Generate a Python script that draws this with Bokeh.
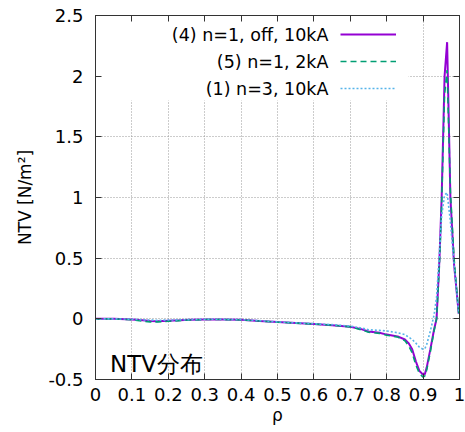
from bokeh.plotting import figure
from bokeh.models import (Range1d, LinearAxis, FixedTicker, Legend, LegendItem,
                          Label, BoxAnnotation)
from bokeh.core.properties import value
from bokeh.embed import file_html
from bokeh.resources import INLINE

# ---------------- data ----------------
rho = [0, 0.05, 0.1, 0.13, 0.15, 0.17, 0.2, 0.23, 0.26, 0.3,
       0.35, 0.4, 0.45, 0.5, 0.55, 0.6, 0.65, 0.7, 0.73, 0.75,
       0.78, 0.8, 0.83, 0.85, 0.86, 0.87, 0.88, 0.89, 0.9, 0.905,
       0.91, 0.92, 0.93, 0.937, 0.945, 0.951, 0.959, 0.966, 0.975, 0.985,
       0.998]

ntv_n1_off_10kA = [0, 0, -0.005, -0.012, -0.018, -0.02, -0.015, -0.012, -0.008, -0.005,
                   -0.005, -0.008, -0.018, -0.027, -0.035, -0.043, -0.052, -0.065, -0.085, -0.105,
                   -0.115, -0.13, -0.145, -0.17, -0.2, -0.25, -0.35, -0.43, -0.46, -0.455,
                   -0.4, -0.25, -0.09, 0.0, 0.5, 1.0, 2.0, 2.28, 1.0, 0.45,
                   0.04]

ntv_n1_2kA = [0, 0, -0.008, -0.02, -0.025, -0.025, -0.02, -0.015, -0.01, -0.006,
              -0.006, -0.009, -0.018, -0.027, -0.035, -0.043, -0.052, -0.066, -0.09, -0.11,
              -0.12, -0.135, -0.15, -0.18, -0.22, -0.28, -0.38, -0.45, -0.48, -0.47,
              -0.42, -0.27, -0.1, 0.0, 0.45, 0.95, 1.85, 2.05, 1.05, 0.5,
              0.04]

ntv_n3_10kA = [0, 0, -0.003, -0.008, -0.01, -0.012, -0.01, -0.008, -0.006, -0.004,
               -0.004, -0.006, -0.015, -0.025, -0.033, -0.04, -0.048, -0.06, -0.075, -0.09,
               -0.095, -0.1, -0.115, -0.13, -0.15, -0.17, -0.2, -0.235, -0.25, -0.245,
               -0.21, -0.1, 0.03, 0.18, 0.55, 0.85, 1.02, 1.04, 0.8, 0.45,
               0.04]

series_names = ["(4) n=1, off, 10kA", "(5) n=1, 2kA", "(1) n=3, 10kA"]

x_ticks = [0, 0.1, 0.2, 0.3, 0.4, 0.5, 0.6, 0.7, 0.8, 0.9, 1.0]
x_tick_labels = ["0", "0.1", "0.2", "0.3", "0.4", "0.5", "0.6", "0.7", "0.8", "0.9", "1"]
y_ticks = [-0.5, 0, 0.5, 1.0, 1.5, 2.0, 2.5]
y_tick_labels = ["-0.5", "0", "0.5", "1", "1.5", "2", "2.5"]

x_label = "ρ"
y_label = "NTV [N/m²]"
panel_title = "NTV分布"

# ---------------- styles ----------------
FONT = "DejaVu Sans"
colors = ["#9400D3", "#009E73", "#56B4E9"]
widths = [2, 1.6, 1.6]
dashes = ["solid", "6 4", "2 2"]

p = figure(width=465, height=430, output_backend="svg", toolbar_location=None,
           x_range=Range1d(0, 1), y_range=Range1d(-0.5, 2.5),
           min_border_left=95, min_border_top=15, min_border_right=6, min_border_bottom=51)
p.background_fill_color = "white"
p.border_fill_color = "white"
p.outline_line_color = "#333333"
p.outline_line_width = 1

xt = FixedTicker(ticks=x_ticks, minor_ticks=[])
yt = FixedTicker(ticks=y_ticks, minor_ticks=[])
xo = {t: l for t, l in zip(x_ticks, x_tick_labels)}
yo = {t: l for t, l in zip(y_ticks, y_tick_labels)}

for ax in p.xaxis:
    ax.ticker = xt
    ax.major_label_overrides = xo
for ax in p.yaxis:
    ax.ticker = yt
    ax.major_label_overrides = yo

for ax in (p.xaxis[0], p.yaxis[0]):
    ax.major_tick_in = 6
    ax.major_tick_out = 0
    ax.minor_tick_in = 0
    ax.minor_tick_out = 0
    ax.axis_line_color = "#333333"
    ax.major_tick_line_color = "#333333"
    ax.major_label_text_font = FONT
    ax.major_label_text_font_size = "18px"
    ax.major_label_text_color = "black"
    ax.axis_label_text_font = FONT
    ax.axis_label_text_font_size = "17px"
    ax.axis_label_text_font_style = "normal"
    ax.axis_label_text_color = "black"

p.xaxis[0].axis_label = x_label
p.xaxis[0].major_label_standoff = 8
p.xaxis[0].axis_label_standoff = 1
p.yaxis[0].axis_label = y_label
p.yaxis[0].major_label_standoff = 12
p.yaxis[0].axis_label_standoff = 10

# mirrored ticks (top / right), no labels
top = LinearAxis(ticker=xt, major_tick_in=6, major_tick_out=0, minor_tick_in=0, minor_tick_out=0,
                 major_label_overrides={t: "" for t in x_ticks}, major_label_standoff=0,
                 axis_line_color="#333333", major_tick_line_color="#333333")
right = LinearAxis(ticker=yt, major_tick_in=6, major_tick_out=0, minor_tick_in=0, minor_tick_out=0,
                   major_label_overrides={t: "" for t in y_ticks}, major_label_standoff=0,
                   axis_line_color="#333333", major_tick_line_color="#333333")
p.add_layout(top, "above")
p.add_layout(right, "right")

for g in (p.xgrid[0], p.ygrid[0]):
    g.grid_line_color = "#999999"
    g.grid_line_dash = "1 2"
    g.grid_line_width = 1
p.xgrid[0].ticker = xt
p.ygrid[0].ticker = yt

# white key box hiding the grid behind the legend
p.add_layout(BoxAnnotation(left=0, right=0.86, bottom=1.80, top=2.5,
                           fill_color="white", fill_alpha=1, line_color=None,
                           level="underlay"))

renderers = []
for ys, c, w, d in zip([ntv_n1_off_10kA, ntv_n1_2kA, ntv_n3_10kA], colors, widths, dashes):
    r = p.line(rho, ys, line_color=c, line_width=w, line_dash=d)
    renderers.append(r)

# line samples of the key (texts are drawn separately, to their left)
legend = Legend(items=[LegendItem(label=value(""), renderers=[r]) for r in renderers],
                location=(245, 281), orientation="vertical",
                glyph_width=56, glyph_height=20, label_width=0, label_standoff=0,
                label_height=20, label_text_font_size="10px", spacing=7,
                padding=0, margin=0, border_line_color=None, background_fill_alpha=0)
p.add_layout(legend)

legend_y = [2.341, 2.119, 1.896]
for name, ly in zip(series_names, legend_y):
    p.add_layout(Label(x=0.64, y=ly, text=name, text_align="right", text_baseline="middle",
                       text_font=FONT, text_font_size="17.5px", text_color="black"))

p.add_layout(Label(x=0.04, y=-0.37, text=panel_title, text_align="left",
                   text_baseline="alphabetic", text_font=FONT, text_font_size="23px",
                   text_color="black"))

open("out.html", "w").write(file_html(p, INLINE))
